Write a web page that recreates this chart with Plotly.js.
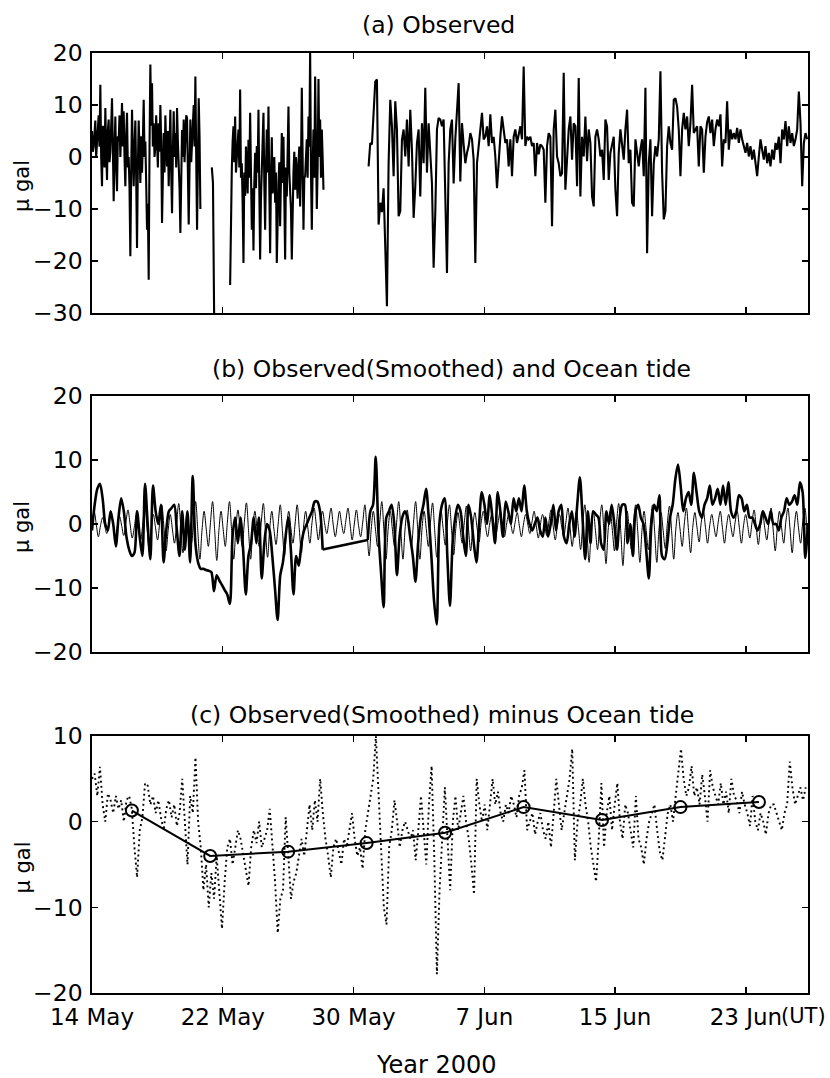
<!DOCTYPE html>
<html>
<head>
<meta charset="utf-8">
<script src="https://cdn.plot.ly/plotly-3.0.1.min.js"></script>
<style>html,body{margin:0;padding:0;background:#fff;}#chart{width:830px;height:1078px;}</style>
</head>
<body>
<div id="chart"></div>
<script>
// ---------- DATA ----------
// Panel (a): observed gravity residual, four recorded stretches (micro-gal)
const obsSeg1 = [5, 1, 2, 6, 7, 0, 3, 7, 8, 2, 13.9, 0, -5.6, 6, 4, -2, 9.4, 1, -4.4, 5, 7.2, -1, 1, 6, 11.3, 2, -8.5, 1, 7.8, -2,
  -6.6, 4, 3, 8, 0, 5, 10.4, 2, 8.8, 0, -5.6, 4, 8.5, -2, 0, -6, -19.1, -3, 9.1, 1, -5.6, 2, 7, -4, -17.5, -2, 7, 1, -5, 4,
  -3, 3, 11, 0, 3, -5, -14, -9, -23.6, 2, 17.8, 6, 14.2, 2, 6.5, 0, 2, 8, 3.3, -2, 6.5, 1, 10, 3, -12.7, -2, 4.6, -3, 8, 2,
  -1.8, 5, -5.6, 2, 9.1, -3, -10.8, 1, 8.8, 0, 4.6, -2, 9.4, 3, -1.2, -6, -14.6, -3, 5.2, 0, 7.2, -1, 3.4, 8, 7.5, 0,
  -13, -2, 7.2, -1, 2.7, 6, 10, 2, 15.5, 0, -14, -2, 11.3, 4, -10];
const obsSeg2 = [-2, -5, -30];
const obsSeg3 = [-24.6, -8, -2.4, 3, 5.9, -1, 7.8, -3, 0.1, 4, 5.3, -2, 13, -4, -1.2, -9, -20.4, -3, -7.5, 2, -2.4, -7, 3.3, -4, 8.5,
  -3, -14, -6, -18, -5, 0.8, -6, 2.1, -3, 9.1, -6, -19.7, -8, -3, 2, 8.5, -5, -14, -2, 5.3, -3, 9.7, -6, -18.5, -4,
  3.8, -7, -4.4, 0, -8.8, -3, -20.4, -10, -5.1, -1, -13.3, -4, 4.6, -5, 3.9, -8, -19.7, -2, -7.6, 1, 9.7, -3, -5.6, -10, -19.7,
  -6, -3, 1, -6.3, 0, -4.4, -8, -1.2, 2, -9.5, -2, 13.3, 0, -14, -4, -3.7, 0, 3.4, -4, 7.8, 2, 20.5, -3, -14, -2,
  5.3, -4, 15.5, 3, -10, -2, 15, 0, 7.2, -4, 5.3, 0, -6.3];
const obsSeg4 = [-1.8, 2.7, 2.4, 8.5, 14.5, 14.9, -13, -8.8, -10.6, -6, -16.5, -28.7, -1.2, 11, 5.9, -3.7, 10.7, 5.3, -11.4, -10.4,
  3.3, 5.3, 0.1, 7.2, -1.8, 9.1, 1.4, -11.7, -5.6, 2.7, 5.3, -7.6, 6.5, -1.2, 13.3, -3, 6.5, 1, -5.1, -21.3,
  -10.6, 5.3, 7.5, 7.2, 5.9, 7.2, -6, -22.3, -1.2, 5.3, 7.2, -5.1, 3.4, 8.5, 14.2, -4.7, 6.5, 2.4, -1.2, 0.8,
  2.1, 4.6, 3.4, -0.5, -20.4, -1.2, 2.1, 5.3, 8.5, 3.4, 3.9, 5.9, 2.1, 8.2, 2.7, 3.9, 0.1, -6, 0.1, 3.9,
  7.8, 5.3, 2.7, 3.4, -1.8, 3.4, -3.7, 3.9, 5.3, 2.7, 4.6, 5.9, 3.4, 17.4, 2.1, 3.9, 3.4, 3.9, 2.1, 2.7,
  -3.7, 2.7, 0.5, 2.4, 2.1, 1.4, -8.8, 2.1, 4.6, 3.9, -13.3, 5.3, 9.1, 0.1, -1.2, -3.7, -3.1, 16.2, -6.3, 0.1,
  5.3, 7.8, -0.5, 6.5, 5.9, -5.6, 15.2, -7.6, 3.9, 0.1, 7.8, -0.8, 5.3, 2.7, -7.6, -9.5, 3.9, 5.3, 3.4, 0.1,
  1.4, -4.4, 7.2, 5.9, -4.4, 0.8, 2.1, 3.9, -6.3, -11.4, 0.8, 5.3, 2.4, -0.5, 5.3, 9.1, -1.2, 1.4, -8.8, -9.5,
  3.4, 0.8, -1.8, 1.4, 3.4, -3.7, 13.3, -18.5, -1.2, 3.4, -11.4, -1.2, 2.1, 0.1, 3.4, 16.5, -3, -12, -10.4, 2.1,
  5.9, 2.7, 1.4, 11, 11.3, 9.7, 5.3, -3.7, 5.3, 8.5, 5.3, 7.8, 2.1, 6.5, 13.9, 4.6, 5.3, 5.9, -1.8, 5.9,
  5.3, -3, 3.9, 6.7, 7.8, 4.6, 7.2, 2.1, 5.3, 7.2, 5.9, 8.2, -1.8, 3.4, 2.7, 10.7, 1.4, 5.3, 3.4, 4.6,
  3.4, 5.6, 2.7, 5.3, 3.4, 2.1, 0.8, 2.7, 0.1, 2.1, -0.5, 1.4, -1.2, -3.7, 0.1, 3.4, 1.4, -0.5, 2.1, -1.2,
  0.8, -1.8, 1.4, -0.5, 2.7, 1.4, 3.9, -1.2, 5.3, 3.4, 6.9, 2.1, 5.9, 2.7, 4.6, 2.1, 3.4, 5.3, 12.6, 6.5,
  -5.6, 2.7, 4.6, 3.4];
const obsSegStartDay = [0, 7.33, 8.45, 16.92];   // days after 14 May 2000
const obsSegEndDay = [6.63, 7.47, 14.16, 43.75];

// Panel (b): observed (smoothed); null = no record (bridged by a straight line)
const smoothObs = [-1, 3, 5.5, 6.3, 4, 0, -1, 2, 0, -3.5, 1, 4, 2, -2, -4, -5, -4.5, 2, -2, -5,
  6.3, 0, -5.5, 6, 2, 0, 3, -6, -1, 2, 2.5, 3, -1, -5, 2, -4, 2, -6, 7.5, -3,
  -6, -7, -7, -7.2, -7.3, -7.5, -10.5, -8, -8.8, -9.5, -10.3, -11, -12.5, -2, 1, -3, 1, -4, -11, -5,
  -3, 1, -3, 1, -8.5, -3, 0, -1, -5, -10, -15, -8, -6, -2, 1, -4, -11, -5, -6.5, -3,
  -1, 0, 1, 2, 3.5, 3.5, 2, -4,
  null, null, null, null, null, null, null, null, null, null, null, null, null, null, null, null,
  -2.5, 2, 3, 10.5, -1, -7.5, -13, 1, 2, 3, 0, -8, -2, 1, 2, 1, -2, -5, -9, -3,
  1, 3, 5.5, 1, -5, -12, -15.7, 0, 3, 4, -5, -12.8, -3, 1, 3, 2, -2, -5, 3, 1,
  -3, -6, 0, 5, 3, 0, 4.5, 1, -3, 5, 2, -2, 3.5, 2, 0, 4, 2, 4, 2, 6,
  2, 0, -1, 0, 1, -1, -2, 1, -2, 0, 3, -1, 2, 3, -2, -3, 0, 2, -2, 3,
  7.3, 1, -5.5, 2, -3, 2, 1.5, 1, -3, -4, 2, 0, 3, 0, -4, 1, 3, 3, -3, 0,
  -5, 2, 3, 1, 0, -4, -8.5, 0, 3, 2, 4.5, -5, -5.5, -3, 1, 3, 7, 9.3, 6, 2,
  4, 5, 3, 8, 5, 2, 1, 3, 4, 6, 3, 4, 5.5, 3, 6, 3, 6.5, 2, 1, 2,
  4.5, 4, 2, 3, 1, 1, 0, -1, 0, 2, 1, 0, 2, 0, 0, -1, 1, 2, 4, 3,
  3.5, 4.5, 3, 6.5, 5, -5.3, 0];
const smoothStepDay = 0.1622;

// Panel (b): ocean tide (thin line)
const oceanTide = [-0.5, 2, 0, -2, -0.3, 1, -0.3, -1.5, 0.2, 2, 0, -2, -0.3, 1.2, -0.2, -1.8, 0.2, 2.2, 0, -2.2,
  -0.5, 1.5, -0.5, -2.5, 0, 3, -0.5, -4, -0.8, 1.5, -0.5, -2.5, 0.2, 3, -0.5, -4.2, -1, 1.5, -0.8, -3,
  0, 3.2, -0.6, -4.5, -1, 1.8, -0.8, -3, 0.2, 3.5, -1, -5.5, -1, 2, -0.8, -3.5, 0.2, 3.5, -1, -5.7,
  -1, 2, -0.8, -3.5, 0.3, 3.5, -1, -5.5, -0.8, 2.2, -0.7, -3.5, 0.2, 3.3, -1, -5.5, -0.8, 2, -0.8, -3.5,
  0.2, 3.2, -1, -5.2, -0.8, 2, -0.8, -3.2, 0, 3, -1, -5, -0.7, 2, -0.6, -3, 0, 3, -0.8, -4.5,
  -0.5, 2, -0.5, -3, 0.2, 2.5, 0, -2.5, 0, 2, 0, -1.5, 0.5, 2.5, 0, -2, 0, 2, 0, -1.5,
  0.5, 2.5, 0, -2.5, 0, 2.2, -0.2, -2, 0.3, 3, -1, -5, -0.8, 2, -0.8, -3.5, 0.2, 3.5, -1, -5.5,
  -0.8, 2, -0.8, -3.5, 0.2, 3.5, -1, -5.5, -0.8, 2.2, -0.7, -3.5, 0.3, 3.5, -1, -5.5, -0.8, 2, -0.7, -3.5,
  0.2, 3.3, -1, -5.2, -0.8, 2, -0.7, -3.3, 0.2, 3, -1, -4.8, -0.7, 1.8, -0.6, -3, 0.2, 2.8, -0.8, -4.2,
  -0.5, 1.8, -0.5, -2.8, 0.3, 2, -0.2, -2, 0, 1.5, 0, -1.5, 0.3, 2, -0.2, -2, 0, 1.5, 0, -1.5,
  0.2, 1.8, -0.2, -2, 0, 1.5, 0, -1.5, 0.3, 2, -0.2, -2.2, 0, 1.5, -0.2, -1.8, 0.3, 2.2, -0.3, -2.5,
  -0.2, 1.5, -0.3, -2, 0.2, 2.5, -0.5, -3.5, -0.5, 2, -0.8, -4, 0.2, 3, -1.2, -6, -1, 2, -1, -4,
  0.2, 3, -1.2, -6.2, -1, 2, -1, -4.2, 0.2, 3.2, -1.3, -6.5, -1, 2, -1, -4, 0.2, 3, -1.2, -6,
  -1, 2, -1, -4, 0.2, 3, -1.2, -6, -1, 1.8, -1, -3.8, 0.1, 2.8, -1, -5.5, -0.8, 1.8, -0.8, -3.5,
  0, 2.5, -1, -4.5, -0.5, 1.8, -0.5, -2.8, 0.2, 2, -0.5, -3, -0.3, 1.5, -0.3, -2, 0.2, 2, -0.5, -3,
  -0.3, 1.5, -0.3, -2, 0.2, 2, -0.5, -3, -0.3, 1.5, -0.3, -2.2, 0.2, 2.2, -0.5, -3.2, -0.3, 1.8, -0.5, -2.5,
  0.2, 2.5, -0.8, -4.2, -0.5, 2, -0.6, -3, 0.3, 2.5, -0.8, -4.5, -0.5, 2, -0.6, -3, 0.3, 2.5, -0.8, -4.5];
const tideStepDay = 0.1294;

// Panel (c): observed(smoothed) minus ocean tide (dotted)
const residual = [5, 5.6, 3, 6.4, 2, 0, 3.3, 2.5, 1, 3, 1.5, 2.5, 0, 2.5, 3, 1.5, -3, -6.5, -1, 0.5,
  4.5, 4.2, 2, 3, 1, 2.5, 0.5, -1, 1.5, 2.5, 0.5, 2, -0.5, 1, 5, 0, -5, 3, 1, 7.5,
  0, -3, -8, -5, -10, -6, -9, -4, -8, -12.5, -7, -3, -2, -5, -3, -1, -2, -4, -5.5, -7.5,
  -3, -1, -2.5, 0, -3, -2, -1, 1.5, -3, -7, -13, -9, -8, 0.5, -4, -9, -7, -6, -4, -2,
  -4, -1, 2, -1, 2.5, 0, 5, 1, -2, -4, -6.5, -3, -2, -3.5, -5, -2, -3, -1, 1, -2,
  -4, -3, -5.5, -1, 1, 3, 5, 10, 3, -5, -10, -12, -3, -1, 2.5, 0, -3, -1, 0, -1,
  -2, -1, -4.5, -1, 3, -1, -5, 2, 6.5, -4, -17.8, -8, -2, 4, -2, -8, 0, 3, -1, 1,
  3, 0, -2, -5, -8.5, 5, 2, 0, 2, -1, 2, 5, 2, 3.5, 1, 0, 2, 1, 3, 2,
  0.5, 3, 4, 6, -1, 0, 1, -1.5, 0, 1, -1, -2, 0, -3, 1, 5, 2, -1, 1, 3,
  5, 8.5, -4.5, 0, 2, 5, 2, 0, -3, -5, -7, -2, 4.5, -3, 1, 3, -1, 2, 4.5, 0,
  -2, 2, 1, -1, -3, 3, -2, -3, -5, -2, 0, 1, 2, -1, -3.5, -4.5, -2, 1, 2, 0,
  3, 6, 8.5, 5, 3, 4, 6.5, 3, 4, 2, 5.5, 3, 0, 6, 4, 3, 2, 4.5, 2, 3.5,
  1, 5, 3, 2.5, 1, 3.5, 2, 1, -0.5, 3, 0, -1, 1, 0, -1.5, 1, 2, 2, 1, 0,
  -1, 1, 2, 7, 4, 2, 3, 4, 2.5, 4];
const residualStepDay = 0.1623;

// Panel (c): ~5-day means (solid line with circles)
const meanDay = [2.44, 7.23, 12.0, 16.8, 21.6, 26.4, 31.2, 36.0, 40.8];
const meanValue = [1.3, -4.0, -3.5, -2.5, -1.3, 1.7, 0.2, 1.7, 2.3];

// Axes
const xTickDates = ['2000-05-14', '2000-05-22', '2000-05-30', '2000-06-07', '2000-06-15', '2000-06-23'];
const xTickLabels = ['14 May', '22 May', '30 May', '7 Jun', '15 Jun', '23 Jun'];
const xRange = ['2000-05-14 00:00', '2000-06-26 19:12'];
const yRangeA = [-30, 20], yRangeB = [-20, 20], yRangeC = [-20, 10];
const panelTitles = ['(a) Observed', '(b) Observed(Smoothed) and Ocean tide', '(c) Observed(Smoothed) minus Ocean tide'];
const yTitle = 'μ gal';
const xTitle = 'Year 2000';
const xUnitNote = '(UT)';

// ---------- BUILD ----------
const BASE = Date.UTC(2000, 4, 14);
const DAY = 86400000;
function times(startDay, stepDay, n) {
  const out = [];
  for (let i = 0; i < n; i++) out.push(BASE + (startDay + i * stepDay) * DAY);
  return out;
}

const FONT = 'DejaVu Sans, Verdana, sans-serif';
const traces = [];
[obsSeg1, obsSeg2, obsSeg3, obsSeg4].forEach((seg, k) => {
  const step = (obsSegEndDay[k] - obsSegStartDay[k]) / (seg.length - 1);
  traces.push({
    type: 'scatter', mode: 'lines', xaxis: 'x', yaxis: 'y',
    x: times(obsSegStartDay[k], step, seg.length), y: seg,
    line: {color: '#000', width: 2.1}, hoverinfo: 'skip'
  });
});
traces.push({
  type: 'scatter', mode: 'lines', xaxis: 'x2', yaxis: 'y2',
  x: times(0, tideStepDay, oceanTide.length), y: oceanTide,
  line: {color: '#000', width: 1, shape: 'spline', smoothing: 1}, hoverinfo: 'skip'
});
// smoothed observations: recorded runs drawn smooth, unrecorded stretch bridged straight
const smoothX = times(0, smoothStepDay, smoothObs.length);
const runs = [];
let cur = null;
smoothObs.forEach((v, i) => {
  if (v === null) { if (cur) { runs.push(cur); cur = null; } }
  else { if (!cur) cur = {x: [], y: []}; cur.x.push(smoothX[i]); cur.y.push(v); }
});
if (cur) runs.push(cur);
runs.forEach((r, k) => {
  traces.push({
    type: 'scatter', mode: 'lines', xaxis: 'x2', yaxis: 'y2', x: r.x, y: r.y,
    line: {color: '#000', width: 2.6, shape: 'spline', smoothing: 0.8}, hoverinfo: 'skip'
  });
  if (k > 0) {
    const p = runs[k - 1];
    traces.push({
      type: 'scatter', mode: 'lines', xaxis: 'x2', yaxis: 'y2',
      x: [p.x[p.x.length - 1], r.x[0]], y: [p.y[p.y.length - 1], r.y[0]],
      line: {color: '#000', width: 2.6}, hoverinfo: 'skip'
    });
  }
});
traces.push({
  type: 'scatter', mode: 'lines', xaxis: 'x3', yaxis: 'y3',
  x: times(0, residualStepDay, residual.length), y: residual,
  line: {color: '#000', width: 1.9, dash: '1.9px,3.2px'}, hoverinfo: 'skip'
});
traces.push({
  type: 'scatter', mode: 'lines+markers', xaxis: 'x3', yaxis: 'y3',
  x: meanDay.map(d => BASE + d * DAY), y: meanValue,
  line: {color: '#000', width: 2},
  marker: {symbol: 'circle-open', size: 12, color: '#000', line: {width: 2, color: '#000'}},
  hoverinfo: 'skip'
});

const W = 830, H = 1078;
const xDom = [92 / W, 808 / W];
const pan = [[53, 313], [396, 652], [736, 993]];
function yDom(p) { return [1 - p[1] / H, 1 - p[0] / H]; }

function xax(showLabels, anchor) {
  return {
    type: 'date', domain: xDom, range: xRange, anchor: anchor,
    tickvals: xTickDates, ticktext: xTickLabels, showticklabels: showLabels,
    ticks: 'inside', ticklen: 6, tickwidth: 1.3, tickcolor: '#000',
    showline: true, linecolor: '#000', linewidth: 1.6, mirror: 'allticks',
    showgrid: false, zeroline: false, ticklabelstandoff: 3,
    tickfont: {family: FONT, size: 23, color: '#000'}
  };
}
function yax(range, anchor, p) {
  return {
    domain: yDom(p), range: range, anchor: anchor, dtick: 10, tick0: 0,
    ticks: 'inside', ticklen: 6, tickwidth: 1.3, tickcolor: '#000',
    showline: true, linecolor: '#000', linewidth: 1.6, mirror: 'allticks',
    showgrid: false, zeroline: false, ticklabelstandoff: 3,
    tickfont: {family: FONT, size: 23.5, color: '#000'}
  };
}

const ann = [];
const titleX = [438, 451, 442];
const titleY = [25, 369, 715];
panelTitles.forEach((t, i) => ann.push({
  xref: 'paper', yref: 'paper', x: titleX[i] / W, y: 1 - titleY[i] / H,
  xanchor: 'center', yanchor: 'middle', showarrow: false, text: t,
  font: {family: FONT, size: 23.5, color: '#000'}
}));
pan.forEach(p => ann.push({
  xref: 'paper', yref: 'paper', x: 22 / W, y: 1 - ((p[0] + p[1]) / 2 + 3) / H,
  xanchor: 'center', yanchor: 'middle', textangle: -90, showarrow: false, text: yTitle,
  font: {family: FONT, size: 21, color: '#000'}
}));
ann.push({xref: 'paper', yref: 'paper', x: 436 / W, y: 1 - 1065 / H, xanchor: 'center', yanchor: 'middle',
  showarrow: false, text: xTitle, font: {family: FONT, size: 24, color: '#000'}});
ann.push({xref: 'paper', yref: 'paper', x: 779 / W, y: 1 - 1016 / H, xanchor: 'left', yanchor: 'middle',
  showarrow: false, text: xUnitNote, font: {family: FONT, size: 21, color: '#000'}});

const layout = {
  width: W, height: H, margin: {l: 0, r: 0, t: 0, b: 0},
  paper_bgcolor: '#fff', plot_bgcolor: '#fff', showlegend: false,
  font: {family: FONT, color: '#000'},
  xaxis: xax(false, 'y'), yaxis: yax(yRangeA, 'x', pan[0]),
  xaxis2: xax(false, 'y2'), yaxis2: yax(yRangeB, 'x2', pan[1]),
  xaxis3: xax(true, 'y3'), yaxis3: yax(yRangeC, 'x3', pan[2]),
  annotations: ann
};

Plotly.newPlot('chart', traces, layout, {displayModeBar: false, staticPlot: true});
</script>
</body>
</html>
